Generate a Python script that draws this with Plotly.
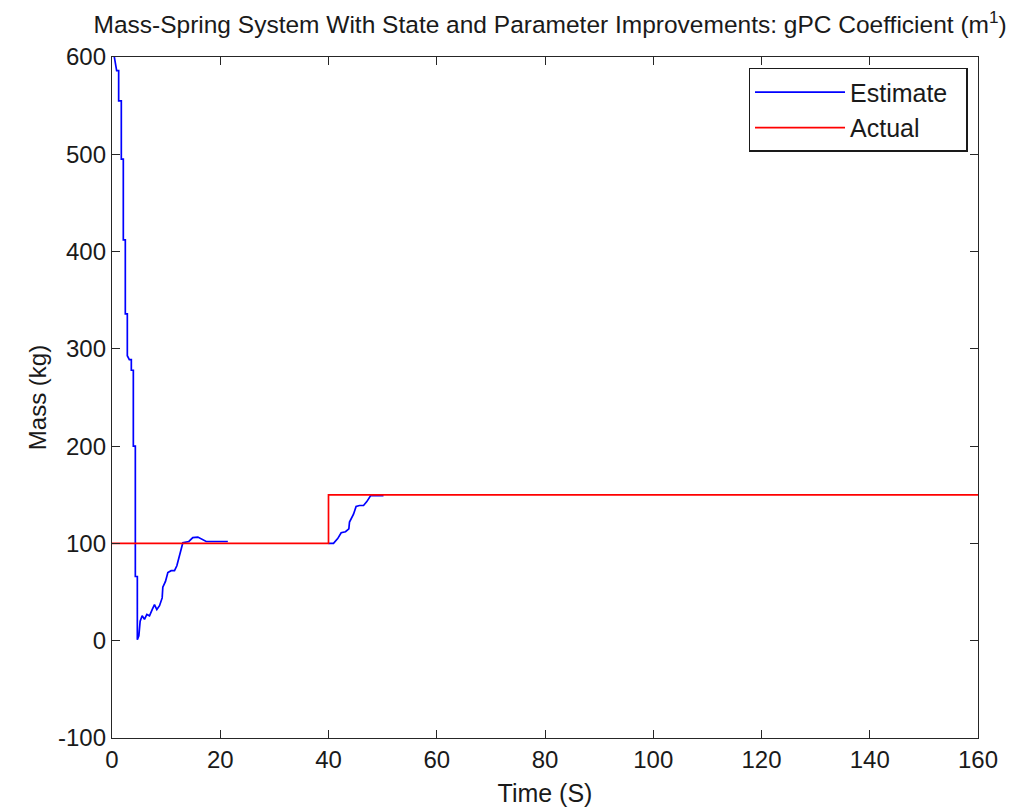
import plotly.graph_objects as go

# Estimate (gPC coefficient m1), two segments separated by a gap (None)
est_t = [0.0, 0.43, 0.86, 1.23, 1.23, 1.72, 1.72, 2.09, 2.09, 2.46, 2.46, 2.83, 2.83, 3.2, 3.57,
         3.57, 3.94, 3.94, 4.31, 4.31, 4.68, 4.68, 4.96, 5.20, 5.57, 6.00, 6.44, 6.93, 7.42,
         7.85, 8.28, 8.78, 9.27, 9.39, 9.88, 10.32, 10.93, 11.55, 11.98, 12.35, 12.78, 13.09,
         14.2, 14.93, 15.86, 16.78, 17.4, 21.4,
         None,
         40.0, 40.92, 41.7, 42.34, 43.14, 43.76, 43.88, 44.38, 44.62, 45.1, 45.73, 46.47,
         47.08, 47.76, 50.16]
est_v = [630, 600, 586, 586, 555, 555, 495, 495, 412, 412, 336, 336, 293, 289, 289,
         278, 278, 200, 200, 66, 66, 1, 5, 20, 25.6, 22, 27, 25.6, 32,
         37, 32, 36, 44, 55, 61, 70, 72, 72, 77, 85, 97, 100.7,
         102, 106, 106.5, 104, 102, 102,
         None,
         100, 100, 105, 111, 112, 115, 122, 127, 130, 138, 139, 139,
         143, 149, 149]

# Actual mass
act_t = [0, 40, 40, 160]
act_v = [100, 100, 150, 150]

x_ticks = [0, 20, 40, 60, 80, 100, 120, 140, 160]
y_ticks = [-100, 0, 100, 200, 300, 400, 500, 600]

FONT = "Liberation Sans, Arial, sans-serif"

fig = go.Figure()
fig.add_trace(go.Scatter(x=est_t, y=est_v, mode="lines", name="Estimate\u00a0\u00a0",
                         line=dict(color="#0000ff", width=1.7), connectgaps=False))
fig.add_trace(go.Scatter(x=act_t, y=act_v, mode="lines", name="Actual",
                         line=dict(color="#ff0000", width=1.7)))

axis_common = dict(showgrid=False, zeroline=False, showline=True, linecolor="#262626",
                   linewidth=1.4, mirror="allticks", ticks="inside", ticklen=8,
                   tickcolor="#262626", tickwidth=1.4, automargin=False,
                   tickfont=dict(family=FONT, size=24, color="#1a1a1a"))

fig.update_layout(
    width=1034, height=812,
    margin=dict(l=112, r=56, t=57, b=74),
    paper_bgcolor="#ffffff", plot_bgcolor="#ffffff",
    title=dict(text="Mass-Spring System With State and Parameter Improvements: gPC Coefficient (m<sup>1</sup>)",
               x=0.532, xanchor="center", y=0.970, yanchor="middle",
               font=dict(family=FONT, size=24.5, color="#1a1a1a")),
    xaxis=dict(range=[0, 160], tickvals=x_ticks, ticktext=[str(v) for v in x_ticks],
               title=dict(text="Time (S)", font=dict(family=FONT, size=25, color="#1a1a1a"), standoff=12),
               **axis_common),
    yaxis=dict(range=[-100, 600], tickvals=y_ticks, ticktext=[str(v) for v in y_ticks],
               title=dict(text="Mass (kg)", font=dict(family=FONT, size=24, color="#1a1a1a"), standoff=4),
               **axis_common),
    legend=dict(x=0.988, xanchor="right", y=0.984, yanchor="top",
                bgcolor="#ffffff", bordercolor="#1a1a1a", borderwidth=1.4,
                font=dict(family=FONT, size=25, color="#1a1a1a"),
                itemwidth=90, tracegroupgap=0),
    showlegend=True,
)

fig.write_html("out.html")
